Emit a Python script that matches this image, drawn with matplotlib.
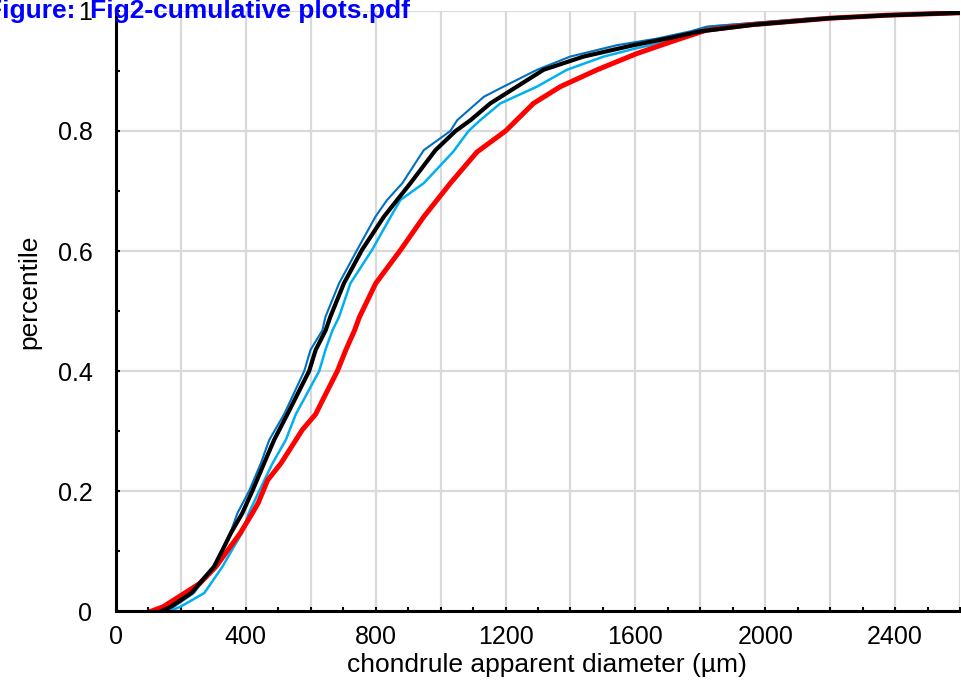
import matplotlib
matplotlib.use("Agg")
import matplotlib.pyplot as plt
from matplotlib.ticker import MultipleLocator, FuncFormatter

plt.rcParams['font.family'] = ['Liberation Sans', 'DejaVu Sans']

red_p = [0.0, 0.007, 0.03, 0.046, 0.074, 0.107, 0.13, 0.163, 0.18, 0.218, 0.246, 0.285,
         0.302, 0.328, 0.352, 0.4, 0.435, 0.468, 0.49, 0.546, 0.602, 0.657, 0.713,
         0.765, 0.8, 0.846, 0.874, 0.902, 0.929, 0.952, 0.968, 0.977, 0.988, 0.993, 0.997]
red_d = [110, 145, 212, 258, 308, 352, 383, 420, 438, 467, 508, 554,
         574, 615, 637, 682, 708, 735, 750, 800, 877, 948, 1030,
         1112, 1200, 1286, 1369, 1482, 1604, 1728, 1818, 1955, 2200, 2375, 2600]

black_p = [0.0, 0.007, 0.03, 0.074, 0.107, 0.13, 0.163, 0.2, 0.246, 0.285, 0.328,
           0.4, 0.435, 0.468, 0.49, 0.546, 0.602, 0.657, 0.713, 0.768, 0.8, 0.818,
           0.846, 0.874, 0.902, 0.924, 0.943, 0.954, 0.966, 0.977, 0.988, 0.993, 0.997]
black_d = [140, 168, 232, 302, 333, 354, 389, 420, 456, 487, 528,
           595, 615, 646, 660, 702, 758, 825, 907, 984, 1046, 1092,
           1153, 1235, 1317, 1440, 1594, 1697, 1799, 1962, 2200, 2385, 2600]

cyan_p = [0.0, 0.007, 0.03, 0.074, 0.107, 0.13, 0.163, 0.2, 0.246, 0.285, 0.328,
          0.4, 0.435, 0.468, 0.49, 0.546, 0.602, 0.657, 0.685, 0.713, 0.765, 0.8,
          0.818, 0.846, 0.874, 0.902, 0.924, 0.938, 0.949, 0.963, 0.974, 0.988, 0.997]
cyan_d = [165, 198, 272, 328, 363, 388, 409, 441, 482, 523, 554,
          626, 645, 667, 687, 722, 789, 846, 876, 948, 1038, 1086,
          1122, 1184, 1297, 1389, 1502, 1604, 1697, 1799, 1830, 2150, 2600]

blue_p = [0.0, 0.007, 0.03, 0.074, 0.102, 0.13, 0.163, 0.2, 0.246, 0.285, 0.328,
          0.4, 0.435, 0.468, 0.49, 0.546, 0.602, 0.657, 0.685, 0.713, 0.768, 0.8,
          0.818, 0.857, 0.874, 0.902, 0.924, 0.943, 0.954, 0.966, 0.974, 0.988, 0.997]
blue_d = [150, 178, 240, 302, 330, 352, 374, 410, 446, 472, 518,
          580, 599, 636, 645, 687, 743, 799, 835, 882, 948, 1030,
          1051, 1133, 1194, 1297, 1399, 1543, 1666, 1769, 1820, 2150, 2600]

fig = plt.figure(figsize=(9.61, 6.87), dpi=100)
ax = fig.add_axes([0.1207, 0.1106, 0.8783, 0.8734])

ax.plot(cyan_d, cyan_p, color='#00b0f0', lw=1.8)
ax.plot(blue_d, blue_p, color='#0070c0', lw=1.5)
ax.plot(red_d, red_p, color='#ff0000', lw=3.6)
ax.plot(black_d, black_p, color='black', lw=3)

ax.set_xlim(0, 2600)
ax.set_ylim(0, 1)

ax.xaxis.set_major_locator(MultipleLocator(200))
ax.xaxis.set_minor_locator(MultipleLocator(100))
ax.xaxis.set_major_formatter(FuncFormatter(lambda v, pos: f"{v:.0f}" if round(v) % 400 == 0 else ""))
ax.yaxis.set_major_locator(MultipleLocator(0.2))
ax.yaxis.set_minor_locator(MultipleLocator(0.1))
ax.yaxis.set_major_formatter(FuncFormatter(lambda v, pos: f"{v:g}"))

ax.grid(True, which='major', color='#d9d9d9', lw=1.6)
ax.set_axisbelow(True)
ax.tick_params(which='both', direction='in', length=3, width=1.5, labelsize=18)
ax.tick_params(axis='x', pad=10)
ax.tick_params(axis='y', pad=17)
for s in ['top', 'right']:
    ax.spines[s].set_visible(False)
for s in ['left', 'bottom']:
    ax.spines[s].set_linewidth(2.2)

ax.set_xlabel("chondrule apparent diameter (µm)", fontsize=19, labelpad=3, x=0.511)
ax.set_ylabel("percentile", fontsize=19, labelpad=12, y=0.532)

fig.text(-0.0146, 0.9738, "Figure:  Fig2-cumulative plots.pdf", color='#0000ff',
         fontsize=19, fontweight='bold', va='baseline', ha='left')

fig.savefig("out.png", dpi=100)
